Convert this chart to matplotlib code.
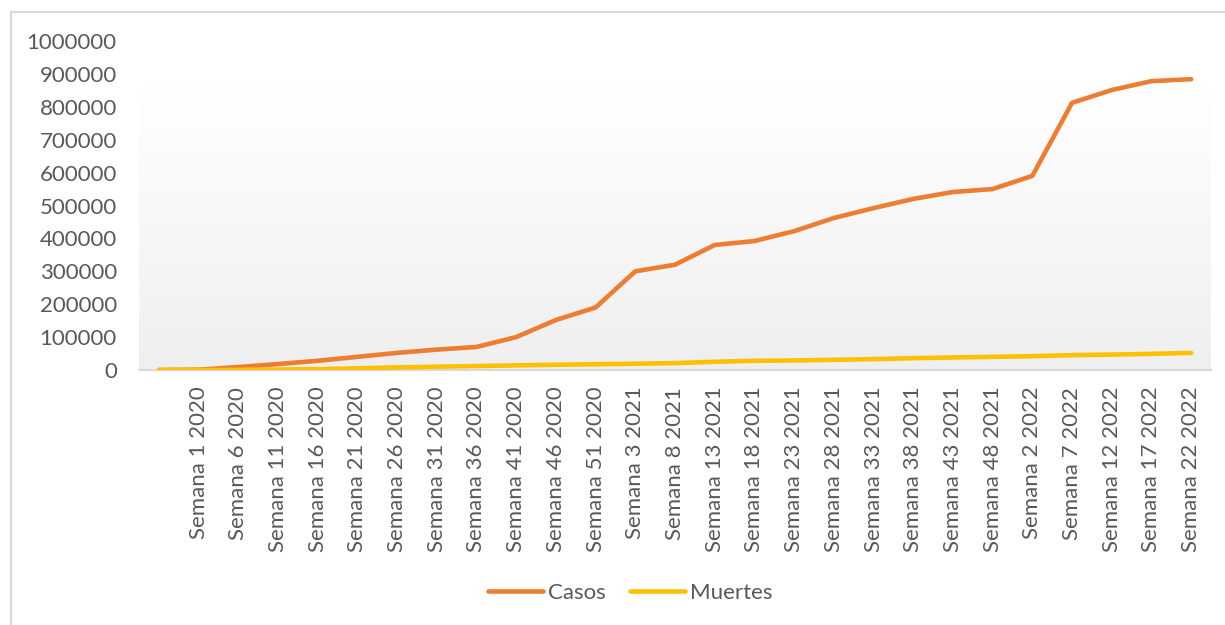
import numpy as np
import matplotlib
matplotlib.use("Agg")
import matplotlib.pyplot as plt
from matplotlib.colors import LinearSegmentedColormap

plt.rcParams['font.family'] = ['Lato', 'DejaVu Sans']

# weekly cumulative counts (every 5 weeks)
semanas = ["",
           "Semana 1 2020", "Semana 6 2020", "Semana 11 2020", "Semana 16 2020",
           "Semana 21 2020", "Semana 26 2020", "Semana 31 2020", "Semana 36 2020",
           "Semana 41 2020", "Semana 46 2020", "Semana 51 2020",
           "Semana 3 2021", "Semana 8 2021", "Semana 13 2021", "Semana 18 2021",
           "Semana 23 2021", "Semana 28 2021", "Semana 33 2021", "Semana 38 2021",
           "Semana 43 2021", "Semana 48 2021",
           "Semana 2 2022", "Semana 7 2022", "Semana 12 2022", "Semana 17 2022",
           "Semana 22 2022"]
casos = [0, 1000, 9000, 18000, 28000, 40000, 52000, 62000, 70000,
         100000, 152000, 190000, 300000, 320000, 380000, 392000,
         422000, 462000, 492000, 520000, 541000, 550000,
         590000, 812000, 851000, 878000, 884000]
muertes = [0, 0, 500, 1500, 2500, 5000, 8000, 10000, 12000,
           14000, 16000, 17500, 19000, 21000, 25000, 28000,
           29000, 31000, 33000, 36000, 38000, 40000,
           42000, 45000, 47000, 49000, 52000]

W, H = 1225, 625
fig = plt.figure(figsize=(W / 100, H / 100), dpi=100)
ax = fig.add_axes([139 / W, (H - 370) / H, (1211 - 139) / W, 329 / H])

x = np.arange(len(semanas))
n = len(semanas)

# plot-area fill: white at the top fading to light grey
grad_top = (370 - 85) / 329 * 1e6
cmap = LinearSegmentedColormap.from_list("fondo", ["#ffffff", "#efefef"])
ax.imshow(np.linspace(0, 1, 256).reshape(-1, 1), cmap=cmap, aspect="auto",
          origin="upper", extent=[-0.5, n - 0.5, 0, grad_top], zorder=0)

ax.plot(x, casos, color="#ED7D31", lw=3.3, solid_capstyle="round",
        solid_joinstyle="round", label="Casos", zorder=3)
ax.plot(x, muertes, color="#FFC000", lw=3.3, solid_capstyle="round",
        solid_joinstyle="round", label="Muertes", zorder=3)

ax.set_xlim(-0.5, n - 0.5)
ax.set_ylim(0, 1000000)
ax.set_yticks(np.arange(0, 1000001, 100000))
ax.set_yticklabels([str(v) for v in range(0, 1000001, 100000)])
ax.set_xticks(x)
ax.set_xticklabels(semanas, rotation=90)

for s in ["top", "right", "left"]:
    ax.spines[s].set_visible(False)
ax.spines["bottom"].set_color("#d9d9d9")
ax.spines["bottom"].set_linewidth(1.5)
ax.spines["bottom"].set_zorder(2)
ax.tick_params(axis="y", length=0, pad=16, labelsize=16, labelcolor="#595959")
ax.tick_params(axis="x", length=0, pad=12, labelsize=16, labelcolor="#595959")
ax.set_facecolor("none")

fig.legend(loc="center", bbox_to_anchor=(630 / W, 32 / H), ncol=2, frameon=False,
           fontsize=16, labelcolor="#595959", handlelength=2.5,
           handletextpad=0.2, columnspacing=1.1)

# chart border (top and left edges)
fig.add_artist(plt.Line2D([11 / W, 11 / W], [0, 1 - 12 / H], color="#d9d9d9",
                          lw=1.5, transform=fig.transFigure))
fig.add_artist(plt.Line2D([11 / W, 1], [1 - 12 / H, 1 - 12 / H], color="#d9d9d9",
                          lw=1.5, transform=fig.transFigure))

fig.savefig("out.png", dpi=100)
